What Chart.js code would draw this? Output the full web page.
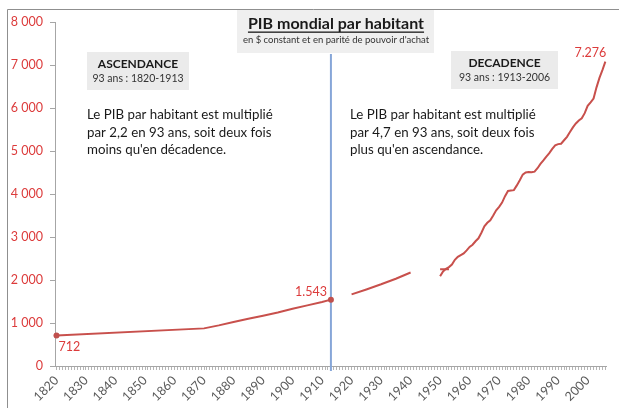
<!DOCTYPE html>
<html><head><meta charset="utf-8">
<script src="https://cdn.jsdelivr.net/npm/chart.js@4/dist/chart.umd.min.js"></script>
<style>html,body{margin:0;padding:0;background:#fff;overflow:hidden}
#wrap{position:absolute;left:0;top:0;width:619px;height:408px}</style>
</head><body><div id="wrap"><canvas id="c" width="619" height="408"></canvas></div>
<script>
const firstYear = 1820;
const lastYear = 2006;
const ascYears = [1820,1870,1875,1880,1885,1890,1895,1900,1905,1910,1913];
const ascValues = [712,875,945,1025,1100,1170,1245,1330,1410,1490,1543];
const interYears = [1920,1925,1930,1935,1940];
const interValues = [1665,1780,1900,2030,2175];
const jointYears = [1950,1953];
const jointValues = [2250,2250];
const modernYears = [1950,1951,1952,1953,1954,1955,1956,1957,1958,1959,1960,1961,1962,1963,1964,1965,1966,1967,1968,1969,1970,1971,1972,1973,1974,1975,1976,1977,1978,1979,1980,1981,1982,1983,1984,1985,1986,1987,1988,1989,1990,1991,1992,1993,1994,1995,1996,1997,1998,1999,2000,2001,2002,2003,2004,2005,2006];
const modernValues = [2088,2200,2260,2300,2360,2470,2540,2580,2620,2690,2770,2820,2900,2970,3100,3250,3330,3390,3500,3620,3700,3800,3950,4070,4080,4090,4200,4320,4450,4500,4510,4505,4520,4600,4700,4780,4870,4950,5050,5130,5160,5170,5250,5330,5440,5550,5640,5710,5760,5880,6050,6130,6220,6480,6700,6880,7080];
const markerYears = [1820,1913];
const pointLabels = ['712','1.543','7.276'];
const pointLabelYears = [1820,1913,2006];
const yTickValues = [0,1000,2000,3000,4000,5000,6000,7000,8000];
const splitYear = 1913;

const years = [];
for (let y = firstYear; y <= lastYear; y++) years.push(y);
function toSeries(ys, vs) {
  const arr = years.map(() => null);
  ys.forEach((y, i) => { arr[y - firstYear] = vs[i]; });
  return arr;
}
const RED_LINE = '#c8504c';
const RED_TEXT = '#dc3b3b';
const FONT = 'Lato, "Open Sans", sans-serif';

function lineDs(data, radiusFn) {
  return {
    data, borderColor: RED_LINE, backgroundColor: RED_LINE, borderWidth: 2,
    pointRadius: radiusFn || 0, pointHoverRadius: 0, pointBackgroundColor: '#c0504d',
    pointBorderWidth: 0, spanGaps: true, tension: 0
  };
}

const decor = {
  id: 'decor',
  beforeDatasetsDraw(chart) {
    const ctx = chart.ctx;
    const x = chart.scales.x.getPixelForValue(splitYear - firstYear);
    ctx.save();
    ctx.strokeStyle = '#86a6d8';
    ctx.lineWidth = 2;
    ctx.beginPath(); ctx.moveTo(x, 54); ctx.lineTo(x, 371); ctx.stroke();
    ctx.restore();
  },
  afterDraw(chart) {
    const ctx = chart.ctx;
    ctx.save();
    // frame
    ctx.strokeStyle = '#8f8f8f'; ctx.lineWidth = 1;
    ctx.beginPath(); ctx.moveTo(7.5, 408); ctx.lineTo(7.5, 9.5); ctx.lineTo(619, 9.5); ctx.stroke();
    // title box
    ctx.fillStyle = '#efefef';
    ctx.fillRect(237, 10, 197, 43);
    ctx.fillStyle = '#1a1a1a';
    ctx.textAlign = 'center'; ctx.textBaseline = 'middle';
    ctx.font = 'bold 16px ' + FONT;
    const t = 'PIB mondial par habitant';
    ctx.fillText(t, 336, 24);
    const tw = ctx.measureText(t).width;
    ctx.fillRect(336 - tw / 2, 31.5, tw, 1.3);
    ctx.font = '9.5px ' + FONT;
    ctx.fillStyle = '#333';
    ctx.fillText("en $ constant et en parité de pouvoir d'achat", 336, 40);
    // side boxes
    function box(x, y, w, h, title, sub) {
      ctx.fillStyle = '#ebebeb'; ctx.fillRect(x, y, w, h);
      ctx.fillStyle = '#1a1a1a'; ctx.font = 'bold 12px ' + FONT;
      ctx.fillText(title, x + w / 2, y + 12);
      ctx.fillStyle = '#333'; ctx.font = '10.5px ' + FONT;
      ctx.fillText(sub, x + w / 2, y + 27);
    }
    box(87, 52, 102, 38, 'ASCENDANCE', '93 ans : 1820-1913');
    box(451, 51, 107, 38, 'DECADENCE', '93 ans : 1913-2006');
    // paragraphs
    ctx.textAlign = 'left'; ctx.fillStyle = '#1a1a1a'; ctx.font = '13.3px ' + FONT;
    const left = ['Le PIB par habitant est multiplié', 'par 2,2 en 93 ans, soit deux fois', "moins qu'en décadence."];
    const right = ['Le PIB par habitant est multiplié', 'par 4,7 en 93 ans, soit deux fois', "plus qu'en ascendance."];
    left.forEach((s, i) => ctx.fillText(s, 87, 115 + i * 17.5));
    right.forEach((s, i) => ctx.fillText(s, 350, 115 + i * 17.5));
    // data labels
    const xs = chart.scales.x, ys = chart.scales.y;
    ctx.fillStyle = RED_TEXT; ctx.font = '12.5px ' + FONT;
    const allVals = {};
    [[ascYears, ascValues], [modernYears, modernValues]].forEach(([yy, vv]) => yy.forEach((y, i) => allVals[y] = vv[i]));
    pointLabelYears.forEach((yr, i) => {
      const px = xs.getPixelForValue(yr - firstYear), py = ys.getPixelForValue(allVals[yr]);
      if (i === 0) { ctx.textAlign = 'left'; ctx.fillText(pointLabels[i], px + 2, py + 12); }
      else if (i === 1) { ctx.textAlign = 'right'; ctx.fillText(pointLabels[i], px - 4, py - 8); }
      else { ctx.textAlign = 'center'; ctx.fillText(pointLabels[i], px - 15, py - 9); }
    });
    ctx.restore();
  }
};

new Chart(document.getElementById('c'), {
  type: 'line',
  data: {
    labels: years.map(String),
    datasets: [
      lineDs(toSeries(ascYears, ascValues), c => markerYears.includes(years[c.dataIndex]) ? 3 : 0),
      lineDs(toSeries(interYears, interValues)),
      lineDs(toSeries(jointYears, jointValues)),
      lineDs(toSeries(modernYears, modernValues))
    ]
  },
  options: {
    responsive: false, animation: false, devicePixelRatio: 1,
    layout: { padding: { top: 22, right: 12, left: 0, bottom: 0 } },
    plugins: { legend: { display: false }, tooltip: { enabled: false } },
    scales: {
      x: {
        type: 'category', offset: true,
        grid: { display: true, drawOnChartArea: false, tickLength: 4, color: '#b5b5b5', offset: false },
        border: { display: true, color: '#a6a6a6' },
        ticks: {
          autoSkip: false, maxRotation: 45, minRotation: 45, padding: 3, color: '#595959',
          font: { family: FONT, size: 12.5 },
          callback: (v, i) => years[i] % 10 === 0 ? String(years[i]) : ''
        },
        afterFit: s => { s.height = 42; }
      },
      y: {
        min: 0, max: 8000,
        afterBuildTicks: s => { s.ticks = yTickValues.map(v => ({ value: v })); },
        grid: { display: true, drawOnChartArea: false, tickLength: 5, color: '#a6a6a6' },
        border: { display: true, color: '#a6a6a6' },
        ticks: {
          padding: 7, color: RED_TEXT, font: { family: FONT, size: 12.5 },
          callback: v => String(v).replace(/\B(?=(\d{3})+(?!\d))/g, ' ')
        },
        afterFit: s => { s.width = 55; }
      }
    }
  },
  plugins: [decor]
});
</script></body></html>
